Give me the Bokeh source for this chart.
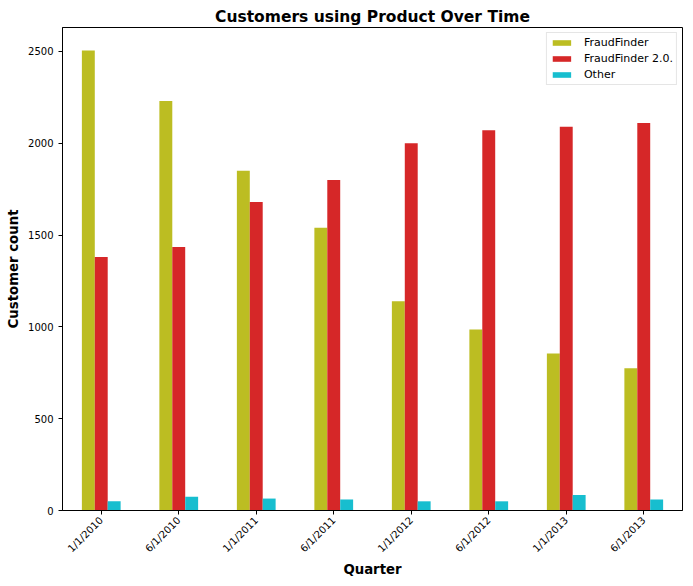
import math
from bokeh.plotting import figure
from bokeh.models import (ColumnDataSource, FactorRange, Range1d, Legend, LegendItem,
                          FixedTicker)
from bokeh.transform import dodge
from bokeh.embed import file_html
from bokeh.resources import INLINE

quarters = ["1/1/2010", "6/1/2010", "1/1/2011", "6/1/2011", "1/1/2012", "6/1/2012", "1/1/2013", "6/1/2013"]
fraudfinder = [2505, 2230, 1850, 1540, 1140, 985, 855, 775]
fraudfinder2 = [1380, 1435, 1680, 1800, 2000, 2070, 2090, 2110]
other = [50, 75, 65, 60, 50, 50, 85, 60]
series_names = ["FraudFinder", "FraudFinder 2.0.", "Other"]
colors = ["#bcbd22", "#d62728", "#17becf"]
y_ticks = [0, 500, 1000, 1500, 2000, 2500]

src = ColumnDataSource(dict(q=quarters, ff=fraudfinder, ff2=fraudfinder2, ot=other))

FONT = "DejaVu Sans"
p = figure(width=693, height=586, x_range=FactorRange(factors=quarters), y_range=Range1d(0, 2630),
           output_backend="svg", toolbar_location=None, title="Customers using Product Over Time",
           min_border_left=62, min_border_right=11, min_border_top=27, min_border_bottom=76)
p.title.align = "center"
p.title.text_font = FONT
p.title.text_font_size = "15.5px"
p.title.text_font_style = "bold"
p.title.text_color = "black"
p.title.standoff = 4

bw = 0.5 / 3
cols = ["ff", "ff2", "ot"]
renderers = []
for i, (c, col) in enumerate(zip(cols, colors)):
    r = p.vbar(x=dodge("q", (i - 1) * bw, range=p.x_range), top=c, width=bw, source=src,
               fill_color=col, line_color=None)
    renderers.append(r)

legend = Legend(items=[LegendItem(label=n, renderers=[r]) for n, r in zip(series_names, renderers)],
                location="top_right", label_text_font=FONT, label_text_font_size="11px",
                label_text_color="black",
                glyph_width=23, glyph_height=7, label_height=9, spacing=3,
                padding=3, margin=5, border_line_color="#cccccc", border_line_width=1,
                label_standoff=11)
p.add_layout(legend)

p.xgrid.visible = False
p.ygrid.visible = False
p.outline_line_color = "black"
p.outline_line_width = 1
p.background_fill_color = "white"
p.border_fill_color = "white"

p.yaxis.ticker = FixedTicker(ticks=y_ticks)
for ax in (p.xaxis[0], p.yaxis[0]):
    ax.axis_line_color = "black"
    ax.major_tick_line_color = "black"
    ax.major_tick_out = 4
    ax.major_tick_in = 0
    ax.minor_tick_line_color = None
    ax.major_label_text_font = FONT
    ax.major_label_text_font_size = "10px"
    ax.major_label_text_color = "black"
    ax.major_label_standoff = 5
    ax.axis_label_text_font = FONT
    ax.axis_label_text_font_size = "13.3px"
    ax.axis_label_text_font_style = "bold"
    ax.axis_label_text_color = "black"

p.xaxis.major_label_orientation = math.pi / 4
p.xaxis.major_label_standoff = 4
p.xaxis.group_text_font_size = "0px"
p.xaxis.axis_label = "Quarter"
p.xaxis.axis_label_standoff = 1

p.yaxis.axis_label = "Customer count"
p.yaxis.axis_label_standoff = 4

open("out.html", "w").write(file_html(p, INLINE))
